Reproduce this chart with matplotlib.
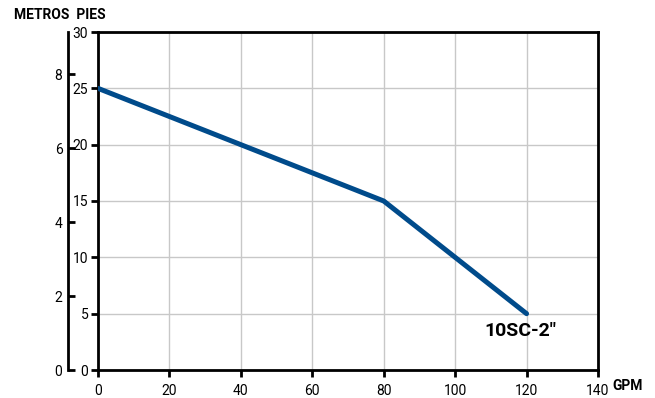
import matplotlib.pyplot as plt
import numpy as np

# datos de la curva
gpm = [0, 40, 80, 120]
pies = [25, 20, 15, 5]

x_ticks = [0, 20, 40, 60, 80, 100, 120, 140]
y_ticks = [0, 5, 10, 15, 20, 25, 30]
m_ticks = [0, 2, 4, 6, 8]

plt.rcParams['font.family'] = ['Roboto', 'DejaVu Sans']

fig = plt.figure(figsize=(6.55, 3.98), dpi=100)
ax = fig.add_axes([98/655, 28/398, 500/655, 338/398])

ax.plot(gpm, pies, color='#004b8b', lw=3.6, solid_capstyle='round', zorder=3)

ax.set_xlim(0, 140)
ax.set_ylim(0, 30)
ax.set_xticks(x_ticks)
ax.set_yticks(y_ticks)
ax.grid(True, color='#c8c8c8', lw=1)
for s in ax.spines.values():
    s.set_linewidth(2)
ax.tick_params(width=2, length=5, labelsize=10, pad=2)
ax.tick_params(axis='x', pad=5)

# eje en metros
sec = ax.secondary_yaxis(-0.06, functions=(lambda f: f / 3.281, lambda m: m * 3.281))
sec.set_yticks(m_ticks)
sec.spines['left'].set_linewidth(2)
sec.tick_params(direction='in', width=2, length=5, labelsize=10, pad=4)

fig.text(14/655, 1 - 15/398, 'METROS  PIES', fontsize=10, fontweight='bold', va='center')
fig.text(612/655, 1 - 386/398, 'GPM', fontsize=10, fontweight='bold', va='center')
ax.text(118.2, 4.3, '10SC-2\u2033', fontsize=14, fontweight='bold', ha='center', va='top')

fig.savefig('out.png', dpi=100)
